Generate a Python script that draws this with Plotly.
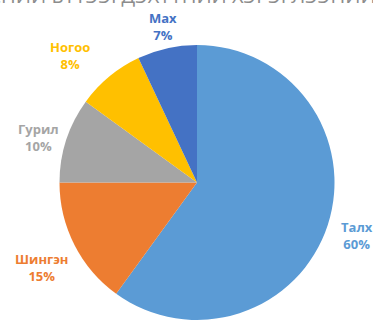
import math
import plotly.graph_objects as go

# Share of household food spending by category
labels = ["Талх", "Шингэн", "Гурил", "Ногоо", "Мах"]
values = [60, 15, 10, 8, 7]
colors = ["#5B9BD5", "#ED7D31", "#A5A5A5", "#FFC000", "#4472C4"]
title_text = "ХҮНСНИЙ БҮТЭЭГДЭХҮҮНИЙ ХЭРЭГЛЭЭНИЙ БҮТЭЦ"

# Small per-label placement nudges (pixels) for the outside labels
label_nudge = [(0, 2), (3, 9), (6, 6), (-17, 1), (2, 6)]

W, H = 373, 320
dom_x = [57 / W, 337 / W]
dom_y = [0.0, 275 / H]

fig = go.Figure()
fig.add_trace(go.Pie(
    labels=labels,
    values=values,
    sort=False,
    direction="clockwise",
    rotation=0,
    marker=dict(colors=colors, line=dict(width=0)),
    textinfo="none",
    hoverinfo="label+percent",
    showlegend=False,
    domain=dict(x=dom_x, y=dom_y),
))

# Pie geometry in pixels (plotly sizes the pie to the smaller domain side)
box_w = (dom_x[1] - dom_x[0]) * W
box_h = (dom_y[1] - dom_y[0]) * H
r = min(box_w, box_h) / 2
cx = (dom_x[0] + dom_x[1]) / 2 * W
cy = H - (dom_y[0] + dom_y[1]) / 2 * H

font_fam = "Open Sans"
fs = 13
gap = 12
total = sum(values)
start = 0.0
annotations = []
for lab, val, col, (nx, ny) in zip(labels, values, colors, label_nudge):
    frac = val / total
    mid = (start + frac / 2) * 2 * math.pi
    start += frac
    dx, dy = math.sin(mid), -math.cos(mid)
    pct = f"{round(frac * 100)}%"
    hw = max(len(lab), len(pct)) * fs * 0.36
    hh = fs * 1.3
    px = cx + (r + gap) * dx + dx * hw + nx
    py = cy + (r + gap) * dy + dy * hh + ny
    annotations.append(dict(
        x=px / W, y=(H - py) / H, xref="paper", yref="paper",
        text=f"<b>{lab}</b><br><b>{pct}</b>",
        showarrow=False, xanchor="center", yanchor="middle",
        font=dict(family=font_fam, size=fs, color=col),
        align="center",
    ))

# Chart title sits at the very top edge, mostly above the visible area
annotations.append(dict(
    x=cx / W, y=(H - 11) / H, xref="paper", yref="paper",
    text=title_text, showarrow=False, xanchor="center", yanchor="bottom",
    font=dict(family=font_fam, size=20, color="#8C8C8C"),
))

fig.update_layout(
    width=W, height=H,
    margin=dict(l=0, r=0, t=0, b=0),
    paper_bgcolor="white",
    plot_bgcolor="white",
    annotations=annotations,
)

fig.write_html("out.html")
